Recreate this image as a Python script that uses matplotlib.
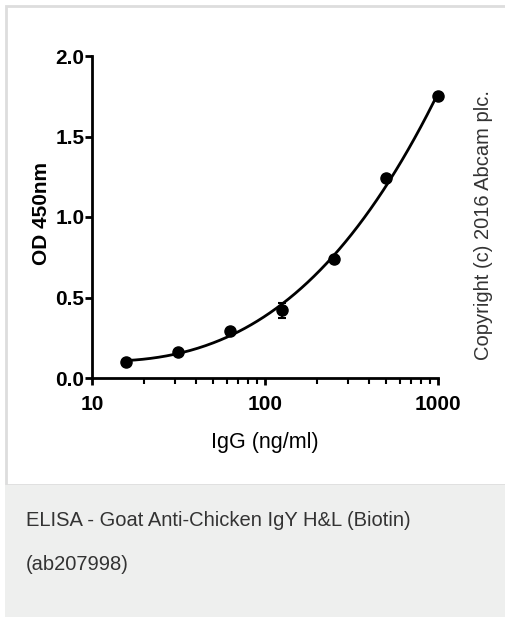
import numpy as np
import matplotlib.pyplot as plt
from matplotlib.patches import Rectangle
from matplotlib.ticker import LogLocator, NullFormatter, FixedLocator

# ELISA standard curve
conc = [15.625, 31.25, 62.5, 125, 250, 500, 1000]
od = [0.10, 0.16, 0.29, 0.42, 0.74, 1.24, 1.75]
od_err = [0.01, 0.01, 0.02, 0.045, 0.02, 0.02, 0.02]
yticks = [0.0, 0.5, 1.0, 1.5, 2.0]
xticks = [10, 100, 1000]

fig = plt.figure(figsize=(5.06, 6.17), dpi=100)

# white card with light border, grey caption strip below
fig.patches.append(Rectangle((6 / 506, 1 - 485 / 617), 1, 479 / 617, transform=fig.transFigure,
                             facecolor='white', edgecolor='#dddddd', linewidth=2, zorder=-2))
fig.patches.append(Rectangle((5 / 506, 0), 1, 132 / 617, transform=fig.transFigure,
                             facecolor='#eeefee', edgecolor='none', zorder=-2))

ax = fig.add_axes([92 / 506, 1 - 378 / 617, 346 / 506, 322 / 617])
ax.set_facecolor('none')
ax.set_zorder(2)

# smooth fit through the points (cubic in log concentration)
lx = np.log10(conc)
coef = np.polyfit(lx, od, 3)
xs = np.linspace(lx[0], lx[-1], 200)
ax.plot(10 ** xs, np.polyval(coef, xs), color='black', lw=2, clip_on=False)
ax.errorbar(conc, od, yerr=od_err, fmt='o', color='black', ms=8, capsize=3,
            elinewidth=1.5, capthick=1.5, clip_on=False)

ax.set_xscale('log')
ax.set_xlim(10, 1000)
ax.set_ylim(0, 2.0)
ax.set_yticks(yticks)
ax.set_yticklabels(['%.1f' % v for v in yticks])
ax.xaxis.set_major_locator(FixedLocator(xticks))
ax.set_xticklabels([str(v) for v in xticks])
ax.xaxis.set_minor_locator(LogLocator(base=10, subs=np.arange(2, 10)))
ax.xaxis.set_minor_formatter(NullFormatter())

for s in ['top', 'right']:
    ax.spines[s].set_visible(False)
for s in ['left', 'bottom']:
    ax.spines[s].set_linewidth(2)

sans = ['Liberation Sans', 'DejaVu Sans']
ax.tick_params(axis='both', which='major', width=2, length=5)
ax.tick_params(axis='y', pad=0.5)
ax.tick_params(axis='x', pad=7)
ax.tick_params(axis='x', which='minor', width=1.5, length=4)
for lab in ax.get_yticklabels() + ax.get_xticklabels():
    lab.set_fontfamily(sans)
    lab.set_fontsize(15)
    lab.set_fontweight('bold')

ax.set_xlabel('IgG (ng/ml)', family=sans, fontsize=15.5, labelpad=13)
ax.set_ylabel('OD 450nm', family=sans, fontsize=15, fontweight='bold', va='center')
ax.yaxis.set_label_coords(-50 / 346, 0.51)

fig.text(484 / 506, 1 - 225 / 617, 'Copyright (c) 2016 Abcam plc.', rotation=90,
         ha='center', va='center', family=sans, fontsize=14.5, color='#333333')

fig.text(26 / 506, 1 - 520 / 617, 'ELISA - Goat Anti-Chicken IgY H&L (Biotin)',
         ha='left', va='center', family=sans, fontsize=14.5, color='#333333')
fig.text(26 / 506, 1 - 565 / 617, '(ab207998)',
         ha='left', va='center', family=sans, fontsize=14.5, color='#333333')

fig.savefig('out.png', dpi=100)
